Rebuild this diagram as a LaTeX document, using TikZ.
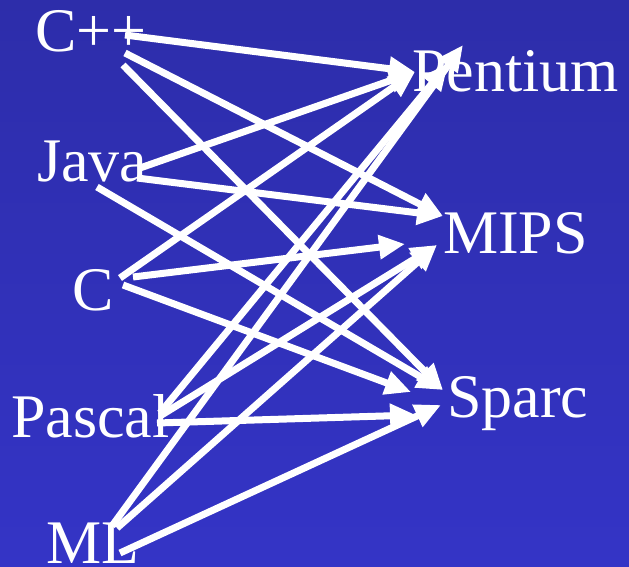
\documentclass[tikz,border=0pt]{standalone}
\usepackage{fontspec}
\setmainfont{Liberation Serif}
\usepackage{xcolor}
\usepackage{tikz}
\usetikzlibrary{arrows.meta, positioning, calc}

\definecolor{slidetop}{RGB}{45,45,170}
\definecolor{slidebot}{RGB}{52,52,198}

\tikzset{
    lang/.style={text=white, inner sep=0pt, anchor=base west,
                 font=\fontsize{62}{70}\selectfont},
    cpu/.style={lang},
    wire/.style={white, line width=7pt,
                 -{Triangle[length=26pt, width=23pt]}}
}

\begin{document}
\begin{tikzpicture}[%
    x=1pt, y=-1pt,      % pixel-like units, y down
    >=stealth
]

    % ==========================================
    % 0. Background
    % ==========================================
    \shade[top color=slidetop, bottom color=slidebot]
        (0,0) rectangle (629,567);
    \useasboundingbox (0,0) rectangle (629,567);

    % ==========================================
    % 1. Languages (left) and machines (right)
    % ==========================================
    \node[lang] (cpp)    at (35,52)   {C++};
    \node[lang] (java)   at (37,182)  {Java};
    \node[lang] (c)      at (72,310)  {C};
    \node[lang] (pascal) at (11,437)  {Pascal};
    \node[lang] (ml)     at (46,563)  {ML};

    \node[cpu] (pentium) at (412,92)  {Pentium};
    \node[cpu] (mips)    at (443,253) {MIPS};
    \node[cpu] (sparc)   at (447,417) {Sparc};

    % ==========================================
    % 2. Ports where the arrows leave / arrive
    % ==========================================
    % --- out of the languages ---
    \coordinate (cpp-p) at (125,35);  \coordinate (cpp-m) at (125,53);  \coordinate (cpp-s) at (123,65);
    \coordinate (java-p) at (140,168); \coordinate (java-m) at (137,178); \coordinate (java-s) at (97,187);
    \coordinate (c-p) at (120,278);   \coordinate (c-m) at (133,277);   \coordinate (c-s) at (123,285);
    \coordinate (pascal-p) at (160,413); \coordinate (pascal-m) at (160,416); \coordinate (pascal-s) at (157,423);
    \coordinate (ml-p) at (112,526);  \coordinate (ml-m) at (117,528);  \coordinate (ml-s) at (120,553);
    % --- into the machines ---
    \coordinate (pent-a) at (415,72); \coordinate (pent-b) at (448,64); \coordinate (pent-c) at (463,45);
    \coordinate (mips-a) at (443,216); \coordinate (mips-b) at (405,244); \coordinate (mips-c) at (437,245);
    \coordinate (sparc-a) at (443,390); \coordinate (sparc-b) at (411,392);
    \coordinate (sparc-c) at (416,415); \coordinate (sparc-d) at (441,405);

    % ==========================================
    % 3. Arrows - every language to every machine
    % ==========================================
    \path[wire]
        % --- C++ ---
        (cpp-p) edge (pent-a)
        (cpp-m) edge (mips-a)
        (cpp-s) edge (sparc-a)
        % --- Java ---
        (java-p) edge (pent-a)
        (java-m) edge (mips-a)
        (java-s) edge (sparc-a)
        % --- C ---
        (c-p) edge (pent-a)
        (c-m) edge (mips-b)
        (c-s) edge (sparc-b)
        % --- Pascal ---
        (pascal-p) edge (pent-b)
        (pascal-m) edge (mips-c)
        (pascal-s) edge (sparc-c)
        % --- ML ---
        (ml-p) edge (pent-c)
        (ml-m) edge (mips-c)
        (ml-s) edge (sparc-d);

\end{tikzpicture}
\end{document}
